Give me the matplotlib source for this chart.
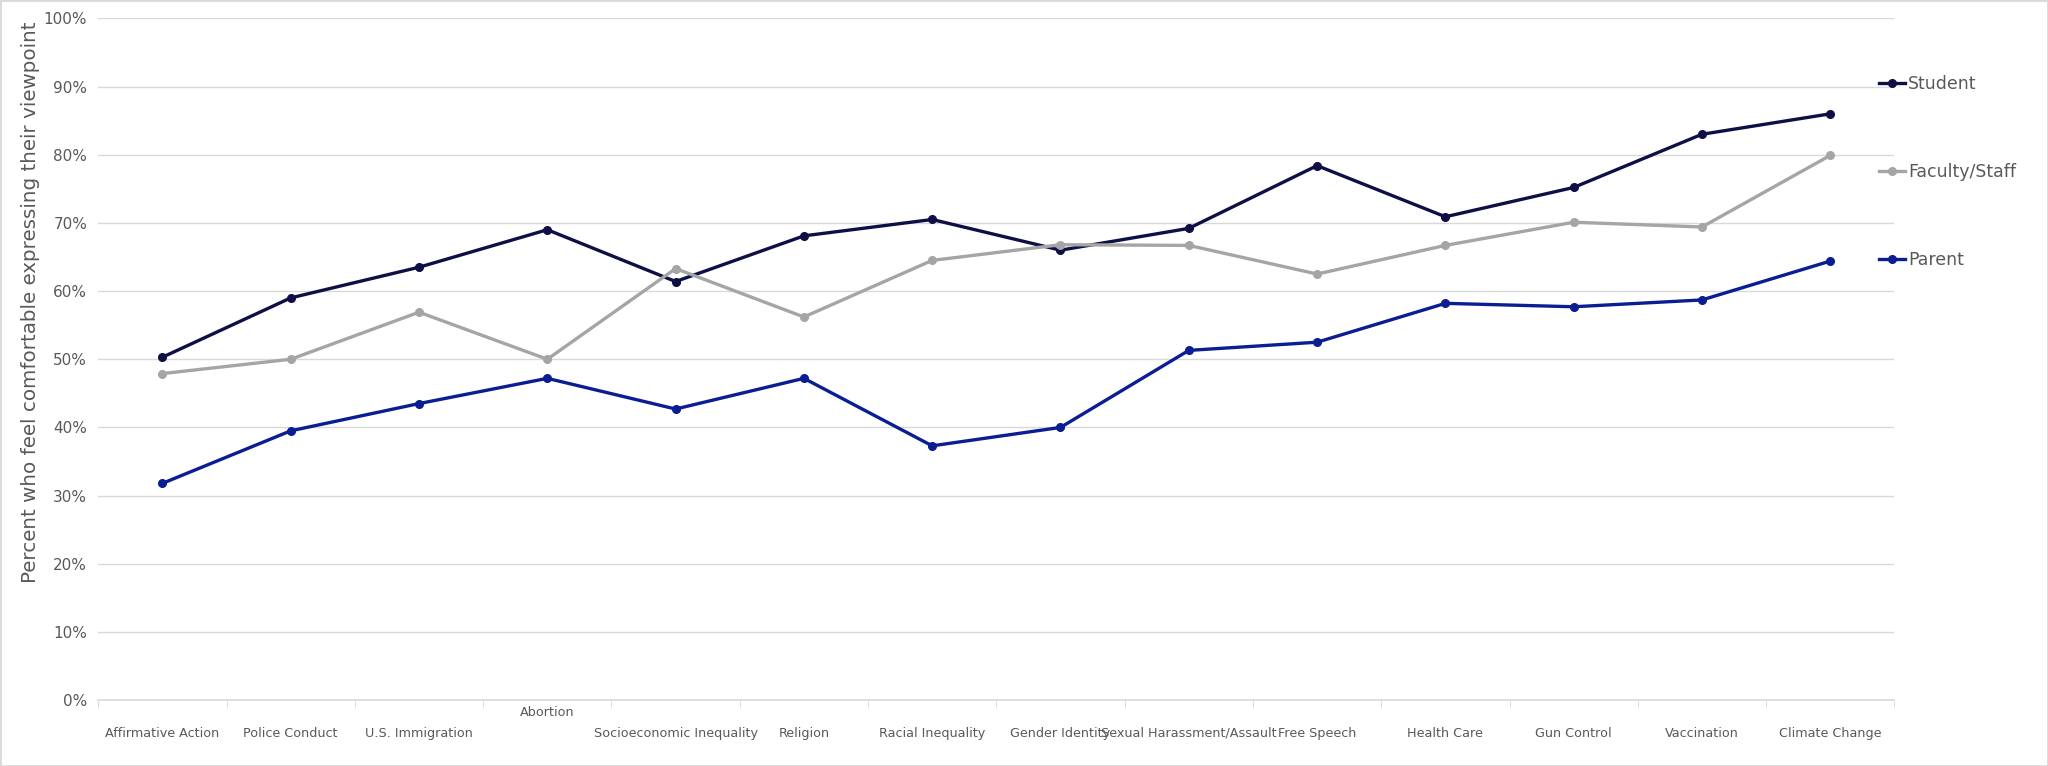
import matplotlib.pyplot as plt
from matplotlib.patches import Rectangle
from matplotlib.ticker import PercentFormatter, FixedLocator
import numpy as np

topics = ['Affirmative Action', 'Police Conduct', 'U.S. Immigration', 'Abortion',
          'Socioeconomic Inequality', 'Religion', 'Racial Inequality', 'Gender Identity',
          'Sexual Harassment/Assault', 'Free Speech', 'Health Care', 'Gun Control',
          'Vaccination', 'Climate Change']
student = [50.3, 59.0, 63.5, 69.0, 61.4, 68.1, 70.5, 66.0, 69.2, 78.4, 70.9, 75.2, 83.0, 86.0]
faculty = [47.9, 50.0, 56.9, 50.0, 63.3, 56.2, 64.5, 66.8, 66.7, 62.5, 66.7, 70.1, 69.4, 79.9]
parent = [31.8, 39.5, 43.5, 47.2, 42.7, 47.2, 37.3, 40.0, 51.3, 52.5, 58.2, 57.7, 58.7, 64.4]

series = [('Student', student, '#0d0f45'),
          ('Faculty/Staff', faculty, '#a5a5a5'),
          ('Parent', parent, '#0a1d92')]

fig = plt.figure(figsize=(20.48, 7.66), dpi=100)
ax = fig.add_axes([0.048, 0.086, 0.877, 0.890])
x = np.arange(len(topics))

for name, vals, col in series:
    ax.plot(x, np.array(vals) / 100, color=col, lw=2.4, marker='o', ms=5.5,
            label=name)

ax.set_xlim(-0.5, len(topics) - 0.5)
ax.set_ylim(0, 1)
ax.set_yticks(np.arange(0, 1.01, 0.1))
ax.yaxis.set_major_formatter(PercentFormatter(1.0, decimals=0))
ax.grid(axis='y', color='#d9d9d9', lw=1)
ax.set_axisbelow(True)
for s in ['top', 'right', 'left']:
    ax.spines[s].set_visible(False)
ax.spines['bottom'].set_color('#d9d9d9')
ax.spines['bottom'].set_linewidth(1.2)

ax.set_xticks(x)
ax.set_xticklabels(topics, fontsize=9.2, color='#595959')
ax.xaxis.set_minor_locator(FixedLocator(np.arange(-0.5, len(topics), 1)))
ax.tick_params(axis='x', which='major', length=0, pad=19)
ax.tick_params(axis='x', which='minor', length=6, color='#d9d9d9')
ax.xaxis.get_major_ticks()[3].set_pad(4)
ax.tick_params(axis='y', length=0, labelsize=11, labelcolor='#595959', pad=8)

fig.text(0.015, 0.606, 'Percent who feel comfortable expressing their viewpoint',
         rotation=90, va='center', ha='center', fontsize=14.3, color='#595959')

leg = ax.legend(loc='upper left', bbox_to_anchor=(0.982, 0.943), frameon=False,
                fontsize=12.5, labelspacing=4.05, handlelength=1.5,
                handletextpad=0.15, borderaxespad=0.6)
for t in leg.get_texts():
    t.set_color('#595959')

fig.patches.append(Rectangle((0, 0), 1, 1, transform=fig.transFigure, fill=False,
                             edgecolor='#d9d9d9', lw=2))

plt.savefig('out.png', dpi=100)
